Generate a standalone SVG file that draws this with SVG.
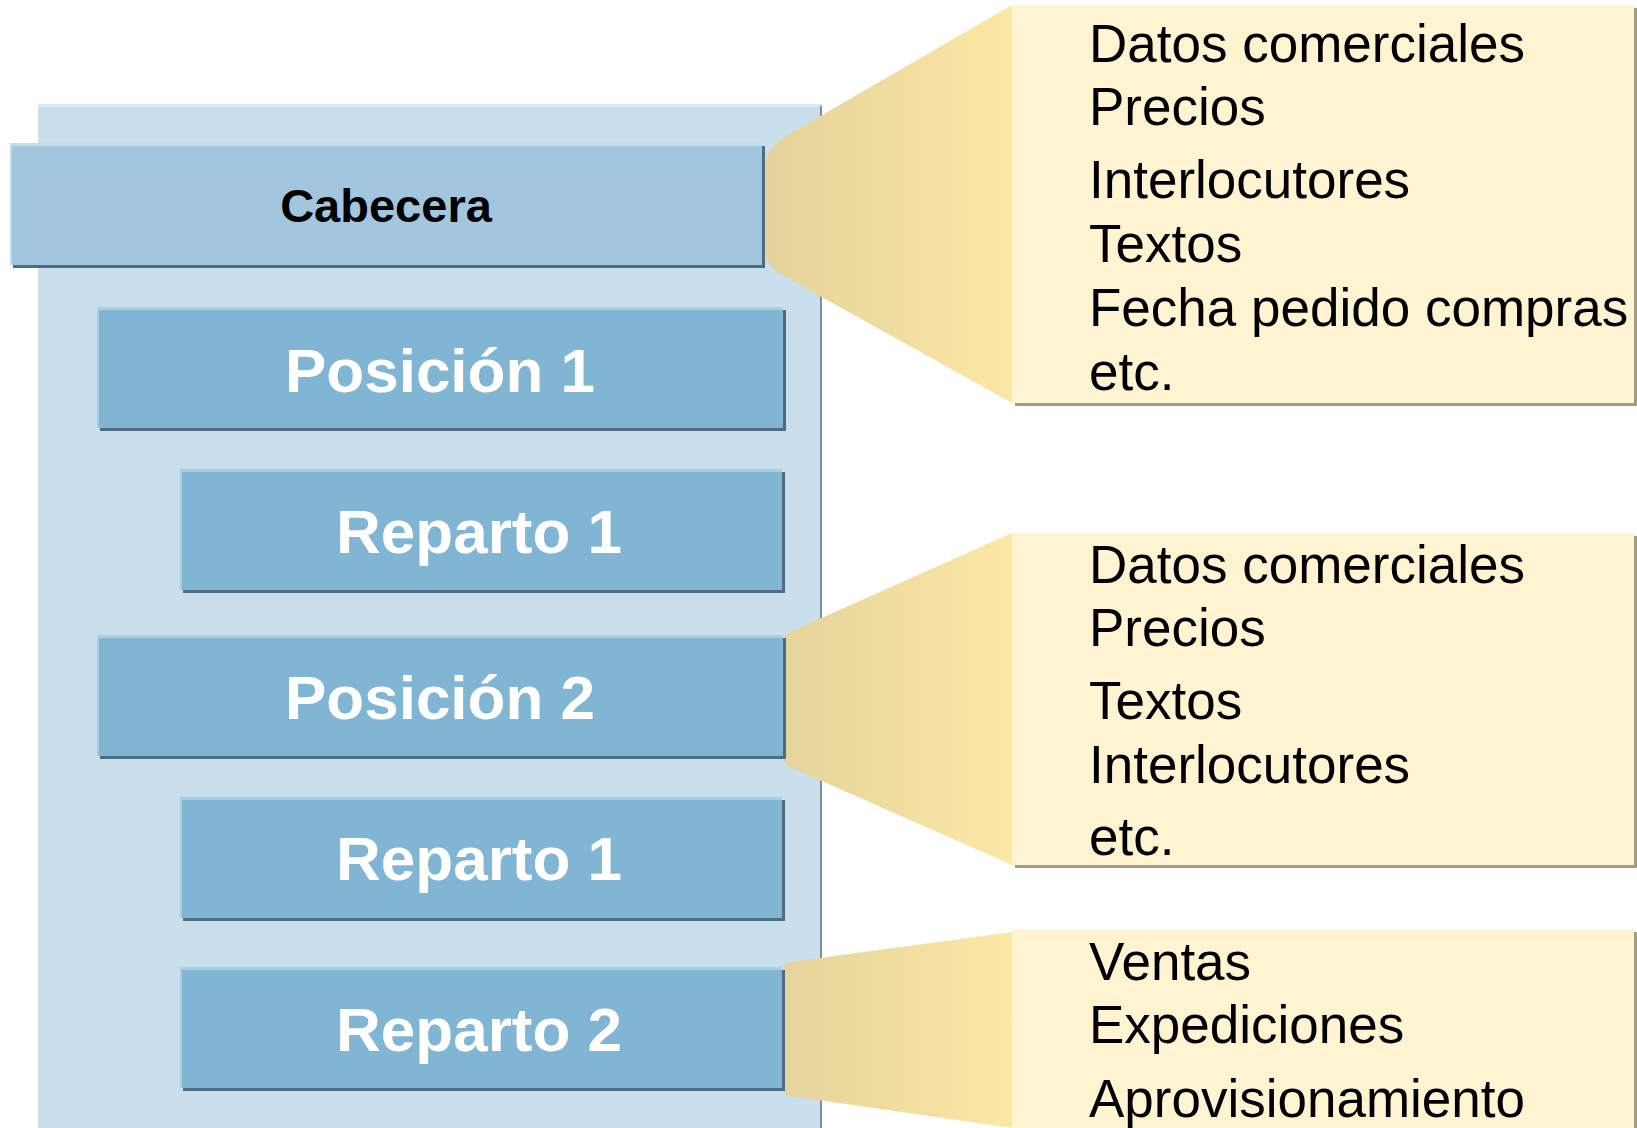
<svg xmlns="http://www.w3.org/2000/svg" width="1637" height="1128" viewBox="0 0 1637 1128">
<defs>
<linearGradient id="fun" x1="766" y1="0" x2="1012" y2="0" gradientUnits="userSpaceOnUse">
<stop offset="0" stop-color="#E3D29B"/>
<stop offset="1" stop-color="#FCE8A5"/>
</linearGradient>
</defs>
<style>
.panel{fill:#C9DFEB}
.shadow{fill:#4F6D80}
.hl{fill:#A9CCE0}
.cab{fill:#A2C6DE}
.box{fill:#80B5D3}
.info{fill:#FEF4D2}
.ishadow{fill:#A39C83}
.fun{fill:url(#fun)}
.lbl{font-family:"Liberation Sans",Arial,sans-serif;font-weight:bold;fill:#FFFFFF;font-size:62px;text-anchor:middle}
.cabt{font-family:"Liberation Sans",Arial,sans-serif;font-weight:bold;fill:#000000;font-size:47px;text-anchor:middle}
.it{font-family:"Liberation Sans",Arial,sans-serif;fill:#000000;font-size:53px}
</style>
<g id="panel">
<rect x="38" y="104" width="784" height="1030" class="panel"/>
<rect x="38" y="104" width="782" height="3" fill="#DCEAF2"/>
<rect x="820" y="106" width="2" height="1030" fill="#7A8E9C"/>
</g>
<g id="connectors">
<path class="fun" d="M1012,5 L791,133 Q766,148 766,162 L766,255 Q766,268 791,280 L1012,403 Z"/>
<path class="fun" d="M1012,533 L790,632 Q783,636 783,642 L783,755 Q783,763 790,767 L1012,865 Z"/>
<path class="fun" d="M1012,932 L790,962 Q783,964 783,970 L783,1090 Q783,1095 790,1096 L1012,1128 Z"/>
</g>
<g id="cabecera">
<rect x="13" y="146" width="752" height="122" class="shadow"/>
<rect x="10" y="143" width="752" height="122" fill="#C3DCEA"/>
<rect x="12" y="146" width="750" height="119" class="cab"/>
<text x="386" y="222" class="cabt">Cabecera</text>
</g>
<g id="posicion1">
<rect x="100" y="310" width="686" height="121" class="shadow"/>
<rect x="97" y="307" width="686" height="121" class="hl"/>
<rect x="99" y="310" width="684" height="118" class="box"/>
<text x="440" y="392" class="lbl">Posición 1</text>
</g>
<g id="reparto1a">
<rect x="183" y="472" width="602" height="121" class="shadow"/>
<rect x="180" y="469" width="602" height="121" class="hl"/>
<rect x="182" y="472" width="600" height="118" class="box"/>
<text x="479" y="553" class="lbl">Reparto 1</text>
</g>
<g id="posicion2">
<rect x="100" y="638" width="686" height="121" class="shadow"/>
<rect x="97" y="635" width="686" height="121" class="hl"/>
<rect x="99" y="638" width="684" height="118" class="box"/>
<text x="440" y="719" class="lbl">Posición 2</text>
</g>
<g id="reparto1b">
<rect x="183" y="800" width="602" height="121" class="shadow"/>
<rect x="180" y="797" width="602" height="121" class="hl"/>
<rect x="182" y="800" width="600" height="118" class="box"/>
<text x="479" y="880" class="lbl">Reparto 1</text>
</g>
<g id="reparto2">
<rect x="183" y="970" width="602" height="121" class="shadow"/>
<rect x="180" y="967" width="602" height="121" class="hl"/>
<rect x="182" y="970" width="600" height="118" class="box"/>
<text x="479" y="1051" class="lbl">Reparto 2</text>
</g>
<g id="info1">
<rect x="1015" y="8" width="622" height="398" class="ishadow"/>
<rect x="1012" y="5" width="622" height="398" class="info"/>
<text class="it" x="1089" y="62">Datos comerciales</text>
<text class="it" x="1089" y="125">Precios</text>
<text class="it" x="1089" y="198">Interlocutores</text>
<text class="it" x="1089" y="262">Textos</text>
<text class="it" x="1089" y="326">Fecha pedido compras</text>
<text class="it" x="1089" y="390">etc.</text>
</g>
<g id="info2">
<rect x="1015" y="536" width="622" height="332" class="ishadow"/>
<rect x="1012" y="533" width="622" height="332" class="info"/>
<text class="it" x="1089" y="583">Datos comerciales</text>
<text class="it" x="1089" y="646">Precios</text>
<text class="it" x="1089" y="719">Textos</text>
<text class="it" x="1089" y="783">Interlocutores</text>
<text class="it" x="1089" y="855">etc.</text>
</g>
<g id="info3">
<rect x="1015" y="932" width="622" height="210" class="ishadow"/>
<rect x="1012" y="929" width="622" height="210" class="info"/>
<text class="it" x="1089" y="980">Ventas</text>
<text class="it" x="1089" y="1043">Expediciones</text>
<text class="it" x="1089" y="1117">Aprovisionamiento</text>
</g>
</svg>
